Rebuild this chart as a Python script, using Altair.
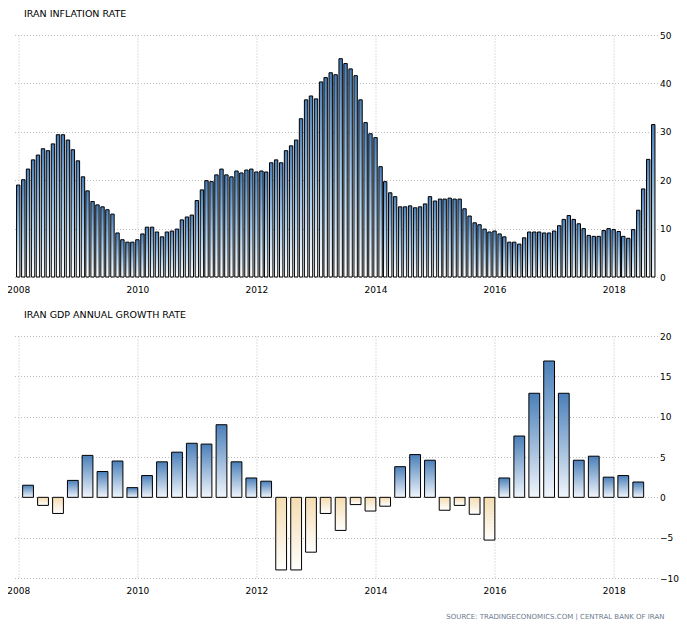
import altair as alt
import pandas as pd

# ---- data ----
inflation_start = "2008-01-01"
inflation = [
    19.0, 20.1, 22.3, 24.2, 25.2, 26.5, 26.1, 27.5, 29.4, 29.4, 28.3, 26.3,  # 2008
    24.0, 20.7, 17.8, 15.6, 14.9, 14.5, 13.9, 13.0, 9.1, 7.7, 7.2, 7.2,      # 2009
    7.7, 8.9, 10.3, 10.3, 9.3, 8.3, 9.3, 9.5, 9.9, 11.8, 12.4, 12.8,         # 2010
    15.8, 18.0, 19.9, 19.7, 21.1, 22.3, 21.1, 20.7, 21.9, 21.5, 22.1, 22.3,  # 2011
    21.7, 21.9, 21.7, 23.6, 24.2, 23.6, 26.1, 27.1, 28.3, 32.7, 36.6, 37.4,  # 2012
    36.8, 40.3, 41.2, 42.2, 41.8, 45.1, 44.1, 43.0, 41.6, 36.6, 31.9, 29.6,  # 2013
    28.8, 22.8, 19.7, 17.4, 16.6, 14.5, 14.5, 14.7, 14.3, 14.5, 15.1, 16.6,  # 2014
    15.7, 16.1, 16.1, 16.3, 16.1, 16.1, 14.1, 12.6, 11.2, 10.8, 9.9, 9.3,    # 2015
    9.5, 8.9, 8.3, 7.2, 7.2, 6.8, 8.1, 9.3, 9.3, 9.3, 9.1, 9.1,              # 2016
    9.5, 10.6, 11.9, 12.7, 11.9, 11.0, 10.0, 8.6, 8.4, 8.4, 9.6, 10.0,       # 2017
    9.8, 9.4, 8.4, 8.0, 9.8, 13.8, 18.2, 24.3, 31.5,                         # 2018
]

gdp_quarters = [f"{y}-{m:02d}-01" for y in range(2008, 2019) for m in (3, 6, 9, 12)][:42]
gdp = [
    1.5, -1.0, -2.0, 2.1, 5.2, 3.2, 4.5, 1.2, 2.7, 4.4, 5.6, 6.7,
    6.6, 9.0, 4.4, 2.4, 2.0, -9.0, -9.0, -6.8, -2.0, -4.1, -0.9, -1.7,
    -1.1, 3.8, 5.3, 4.6, -1.6, -1.0, -2.1, -5.3, 2.4, 7.6, 12.9, 16.9,
    12.9, 4.6, 5.1, 2.5, 2.7, 1.9,
]

inflation_ticks = [0, 10, 20, 30, 40, 50]
gdp_ticks = [-10, -5, 0, 5, 10, 15, 20]
year_ticks = [2008, 2010, 2012, 2014, 2016, 2018]

title_top = "IRAN INFLATION RATE"
title_bottom = "IRAN GDP ANNUAL GROWTH RATE"
source_text = "SOURCE: TRADINGECONOMICS.COM | CENTRAL BANK OF IRAN"

months = pd.date_range(inflation_start, periods=len(inflation), freq="MS").strftime("%Y-%m-%d")
df_inf = pd.DataFrame({"date": months, "value": inflation})
df_gdp = pd.DataFrame({"date": gdp_quarters, "value": gdp})

FONT = "DejaVu Sans"
W, H = 643, 242

def x_scale():
    return alt.Scale(
        type="utc", padding=0,
        domain=[alt.DateTime(year=2007, month=12, date=9, utc=True),
                alt.DateTime(year=2018, month=9, date=27, utc=True)],
    )

x_axis = alt.Axis(
    values=[alt.DateTime(year=y, month=1, date=1, utc=True) for y in year_ticks],
    format="%Y", title=None, domain=False, ticks=False, tickSize=0, labelPadding=8.5,
    grid=True, gridColor="#bdbdbd", gridDash=[1, 2], gridWidth=1,
    labelFont=FONT, labelFontSize=9, labelColor="#000000",
)

def y_axis(vals):
    return alt.Axis(
        values=vals, orient="right", title=None, domain=False, ticks=False, tickSize=0,
        labelPadding=2, grid=True, gridColor="#bdbdbd", gridDash=[1, 2], gridWidth=1,
        labelFont=FONT, labelFontSize=9, labelColor="#000000", labelAlign="left",
        labelBaseline="middle",
    )

blue_grad = alt.Gradient(
    gradient="linear", x1=0, y1=0, x2=0, y2=1,
    stops=[alt.GradientStop(offset=0, color="#4a7fb9"),
           alt.GradientStop(offset=0.55, color="#a9cdec"),
           alt.GradientStop(offset=1, color="#ffffff")],
)
blue_grad2 = alt.Gradient(
    gradient="linear", x1=0, y1=0, x2=0, y2=1,
    stops=[alt.GradientStop(offset=0, color="#4a7fb9"),
           alt.GradientStop(offset=1, color="#f1f6fc")],
)
wheat_grad = alt.Gradient(
    gradient="linear", x1=0, y1=0, x2=0, y2=1,
    stops=[alt.GradientStop(offset=0, color="#f4dcb0"),
           alt.GradientStop(offset=1, color="#ffffff")],
)

def mk_title(t):
    return alt.TitleParams(
        t, anchor="start", frame="group", dx=9.5, offset=3, baseline="bottom",
        font=FONT, fontSize=9.5, fontWeight="normal", color="#000000",
    )

top = alt.Chart(df_inf).mark_bar(
    size=3.4, fill=blue_grad, stroke="#000000", strokeWidth=1
).encode(
    x=alt.X("date:T", scale=x_scale(), axis=x_axis),
    y=alt.Y("value:Q", scale=alt.Scale(domain=[0, 50], nice=False), axis=y_axis(inflation_ticks)),
).properties(width=W, height=H, title=mk_title(title_top))

base_gdp = alt.Chart(df_gdp).encode(
    x=alt.X("date:T", scale=x_scale(), axis=x_axis),
    y=alt.Y("value:Q", scale=alt.Scale(domain=[-10, 20], nice=False), axis=y_axis(gdp_ticks)),
)
pos = base_gdp.transform_filter("datum.value >= 0").mark_bar(
    size=10.8, fill=blue_grad2, stroke="#000000", strokeWidth=1
)
neg = base_gdp.transform_filter("datum.value < 0").mark_bar(
    size=10.8, fill=wheat_grad, stroke="#000000", strokeWidth=1
)
src = alt.Chart(pd.DataFrame({"t": [source_text]})).mark_text(
    align="left", baseline="middle", font=FONT, fontSize=7, color="#6d7b8d"
).encode(text="t:N", x=alt.value(431.8), y=alt.value(280.5))

bottom = alt.layer(pos, neg, src).properties(width=W, height=H, title=mk_title(title_bottom))

chart = alt.vconcat(top, bottom, spacing=14).properties(
    padding={"left": -1.5, "top": 0, "right": 0, "bottom": 0}
).configure_view(stroke=None)

chart.save("out.html", embed_options={"renderer": "svg", "actions": False})
